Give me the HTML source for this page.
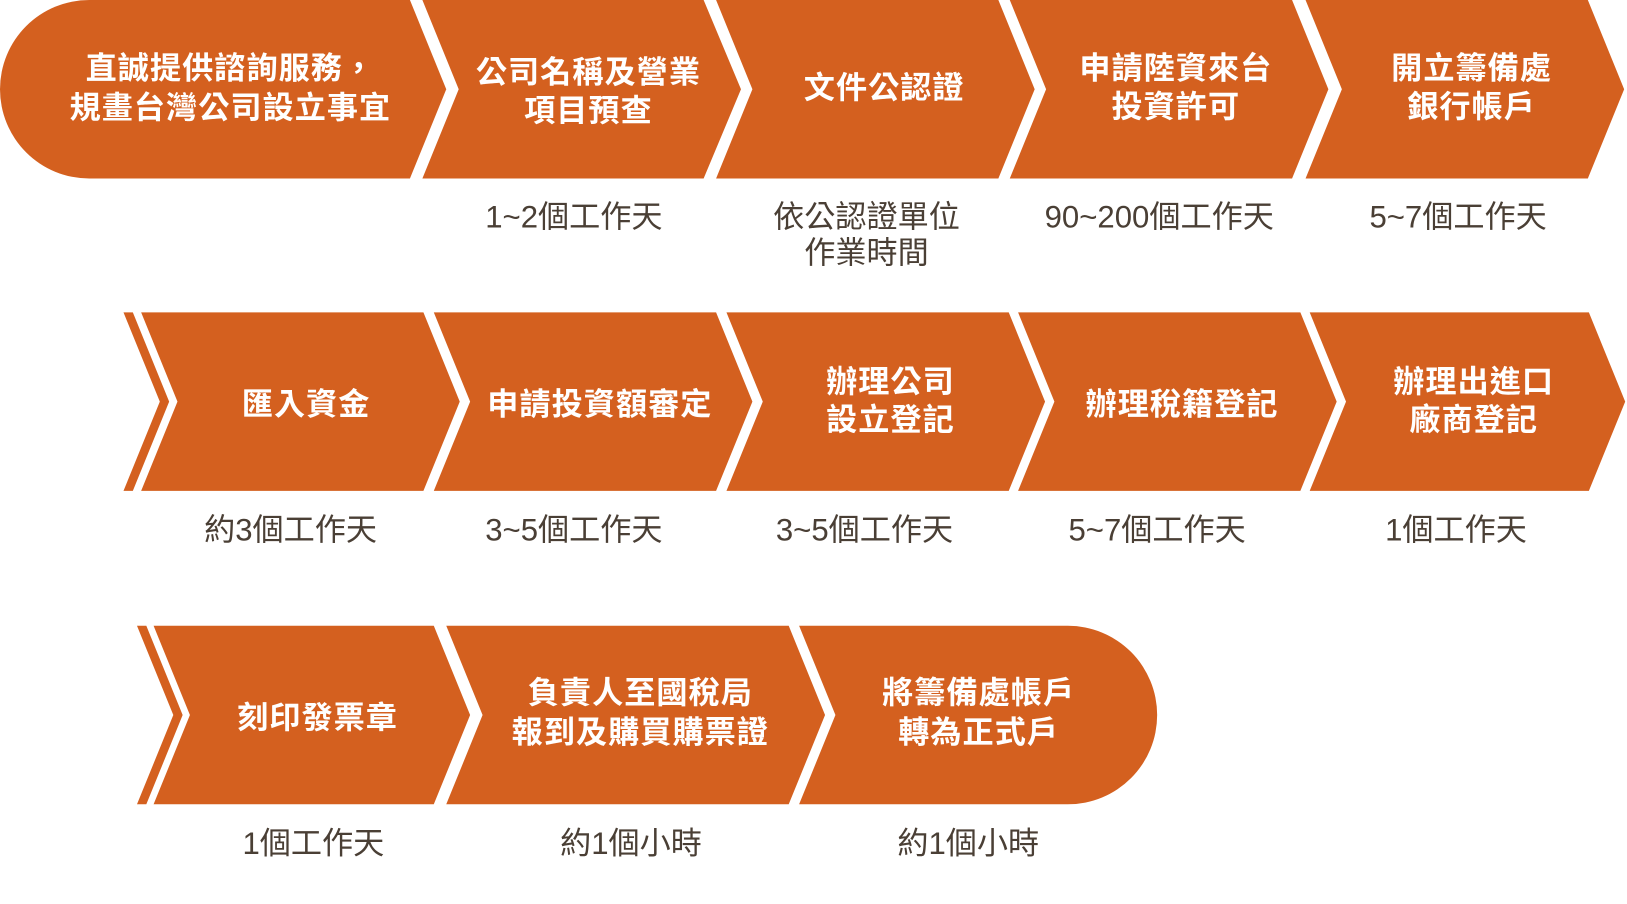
<!DOCTYPE html>
<html><head><meta charset="utf-8"><style>
html,body{margin:0;padding:0;background:#fff;}
svg{display:block;}
.t{font-family:"Liberation Sans","Noto Sans CJK TC",sans-serif;font-weight:bold;font-size:30px;fill:#fff;text-anchor:middle;letter-spacing:1px;}
.s{font-family:"Liberation Sans","Noto Sans CJK TC",sans-serif;font-size:30px;fill:#4a3f35;text-anchor:middle;}
</style></head><body>
<svg width="1627" height="904" viewBox="0 0 1627 904" xmlns="http://www.w3.org/2000/svg">
<g transform="scale(1.0378)">
<g fill="#d4601f">
<path d="M86,0 L395,0 L430,86 L395,172 L86,172 A86,86 0 0 1 86,0 Z"/>
<polygon points="407,0 678,0 714,86 678,172 407,172 442,86"/>
<polygon points="690,0 962,0 997,86 962,172 690,172 725,86"/>
<polygon points="973,0 1245,0 1280,86 1245,172 973,172 1008,86"/>
<polygon points="1258,0 1530,0 1565,86 1530,172 1258,172 1293,86"/>
<polygon points="119,301 128,301 163,387 128,473 119,473 154,387"/>
<polygon points="136,301 408,301 443,387 408,473 136,473 171,387"/>
<polygon points="418,301 690,301 725,387 690,473 418,473 453,387"/>
<polygon points="700,301 972,301 1007,387 972,473 700,473 735,387"/>
<polygon points="981,301 1253,301 1288,387 1253,473 981,473 1016,387"/>
<polygon points="1262,301 1531,301 1566,387 1531,473 1262,473 1297,387"/>
<polygon points="132,603 141,603 176,689 141,775 132,775 167,689"/>
<polygon points="148,603 418,603 453,689 418,775 148,775 183,689"/>
<polygon points="430,603 760,603 795,689 760,775 430,775 465,689"/>
<path d="M770,603 L1029,603 A86,86 0 0 1 1029,775 L770,775 L805,689 Z"/>
</g>
<text class="t" x="222" y="76">直誠提供諮詢服務，</text>
<text class="t" x="222" y="114">規畫台灣公司設立事宜</text>
<text class="t" x="567" y="80">公司名稱及營業</text>
<text class="t" x="567" y="117">項目預查</text>
<text class="t" x="852" y="95">文件公認證</text>
<text class="t" x="1133" y="76">申請陸資來台</text>
<text class="t" x="1133" y="113">投資許可</text>
<text class="t" x="1418" y="76">開立籌備處</text>
<text class="t" x="1418" y="113">銀行帳戶</text>
<text class="s" x="553" y="219">1~2個工作天</text>
<text class="s" x="835" y="219">依公認證單位</text>
<text class="s" x="835" y="254">作業時間</text>
<text class="s" x="1117" y="219">90~200個工作天</text>
<text class="s" x="1405" y="219">5~7個工作天</text>
<text class="t" x="295" y="400">匯入資金</text>
<text class="t" x="578" y="400">申請投資額審定</text>
<text class="t" x="858" y="378">辦理公司</text>
<text class="t" x="858" y="415">設立登記</text>
<text class="t" x="1139" y="400">辦理稅籍登記</text>
<text class="t" x="1420" y="378">辦理出進口</text>
<text class="t" x="1420" y="415">廠商登記</text>
<text class="s" x="280" y="521">約3個工作天</text>
<text class="s" x="553" y="521">3~5個工作天</text>
<text class="s" x="833" y="521">3~5個工作天</text>
<text class="s" x="1115" y="521">5~7個工作天</text>
<text class="s" x="1403" y="521">1個工作天</text>
<text class="t" x="306" y="702">刻印發票章</text>
<text class="t" x="617" y="678">負責人至國稅局</text>
<text class="t" x="617" y="716">報到及購買購票證</text>
<text class="t" x="943" y="678">將籌備處帳戶</text>
<text class="t" x="943" y="716">轉為正式戶</text>
<text class="s" x="302" y="823">1個工作天</text>
<text class="s" x="608" y="823">約1個小時</text>
<text class="s" x="933" y="823">約1個小時</text>
</g>
</svg>
</body></html>
